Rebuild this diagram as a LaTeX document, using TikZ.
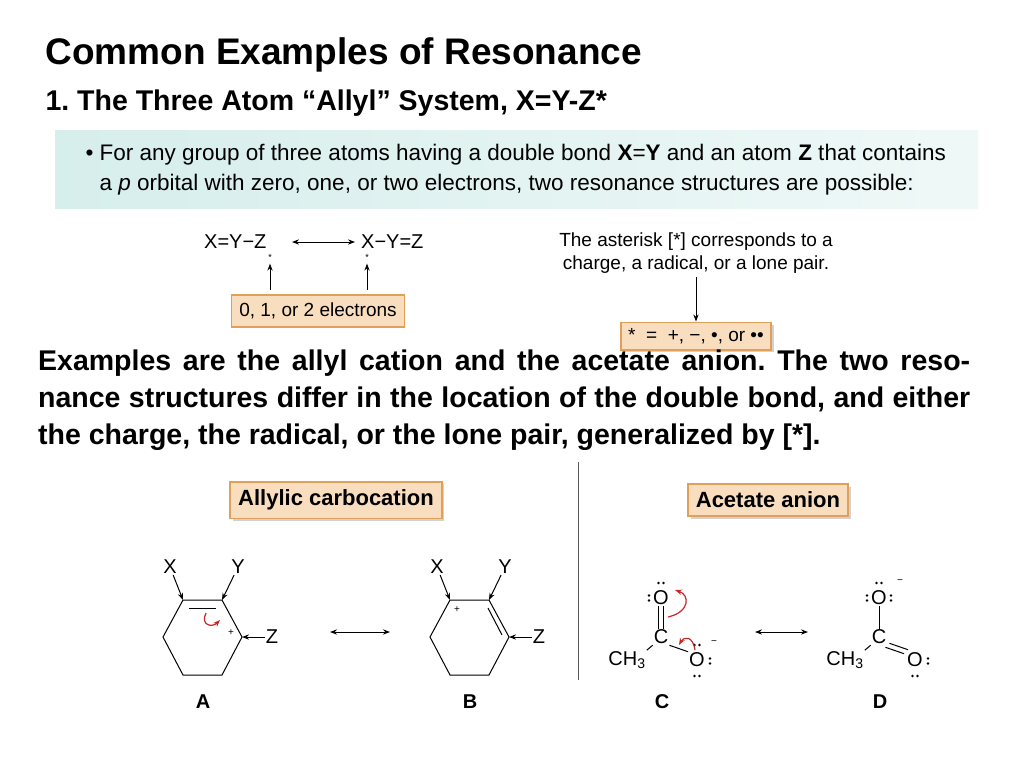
\documentclass[tikz,border=0pt]{standalone}
\usepackage{fontspec}
\setmainfont{Liberation Sans}
\usetikzlibrary{arrows.meta, positioning, shadows}
\definecolor{tan}{RGB}{248,222,190}
\definecolor{tanline}{RGB}{225,160,90}
\definecolor{band}{RGB}{214,238,236}
\definecolor{curly}{RGB}{200,40,40}
\newcommand{\dotpair}[2]{\fill (#1) ++(-2.5,0) circle (1.4) ++(5,0) circle (1.4);}
\newcommand{\dotpairv}[1]{\fill (#1) ++(0,-2.5) circle (1.4) ++(0,5) circle (1.4);}
\frenchspacing
\begin{document}
\begin{tikzpicture}[x=1pt, y=-1pt, >={Stealth[length=7pt]},
  tanbox/.style={draw=tanline, fill=tan, line width=1.5pt, inner sep=8pt, font=\fontsize{19}{21}\selectfont},
  labelbox/.style={tanbox, drop shadow={opacity=0.35}, font=\bfseries\fontsize{22}{24}\selectfont},
  chem/.style={font=\fontsize{20}{22}\selectfont, inner sep=1pt},
  bond/.style={line width=1pt}]
\useasboundingbox (0,0) rectangle (1024,768);
\fill[white] (0,0) rectangle (1024,768);
% Headings
\node[anchor=west, font=\bfseries\fontsize{37}{40}\selectfont] (title) at (42,55) {Common Examples of Resonance};
\node[anchor=west, font=\bfseries\fontsize{28.5}{32}\selectfont] (sub) at (42,103) {1. The Three Atom “Allyl” System, X=Y-Z*};
% Bullet band
\shade[left color=band, right color=band!40] (55,130) rectangle (978,208);
\node[anchor=north west, align=left, font=\fontsize{22.5}{30}\selectfont] (bullet) at (82,141)
  {\textbullet\ For any group of three atoms having a double bond \textbf{X}=\textbf{Y} and an atom \textbf{Z} that contains\\
   \hphantom{\textbullet\ }a \textit{p} orbital with zero, one, or two electrons, two resonance structures are possible:};
% General scheme
\node[chem, anchor=west] (left) at (203,242) {X=Y−Z};
\node[chem, anchor=west] (right) at (360,242) {X−Y=Z};
\draw[<->, bond] (292,242) -- (355,242);
\node[font=\small] (s1) at (270,257) {*};
\node[font=\small] (s2) at (367,257) {*};
\node[tanbox] (elec) at (318,311) {0, 1, or 2 electrons};
\draw[->, bond] (270,290) -- (s1);
\draw[->, bond] (367,290) -- (s2);
\node[align=center, font=\fontsize{19}{23}\selectfont] (note) at (696,253) {The asterisk [*] corresponds to a\\charge, a radical, or a lone pair.};
\node[tanbox, drop shadow={opacity=0.35}, minimum width=150pt, inner sep=6pt] (star) at (696,336) {* \ = \ +, −, •, or ••};
\draw[->, bond] (note) -- (star);
% Paragraph
\node[anchor=north west, text width=932pt, align=justify, inner sep=0pt, font=\bfseries\fontsize{28.5}{37}\selectfont] (para) at (38,350)
  {\hyphenpenalty=10000 \emergencystretch=3em Examples are the allyl cation and the acetate anion. The two resonance structures differ in the location of the double bond, and either the charge, the radical, or the lone pair, generalized by [*].};
% Divider and label boxes
\draw[line width=1pt, gray!70!black] (578,462) -- (578,680);
\node[labelbox] (allyl) at (336,500) {Allylic carbocation};
\node[labelbox] (acet) at (768,500) {Acetate anion};
% Structure A
\begin{scope}
\coordinate (a1) at (163,637); \coordinate (a2) at (183,600); \coordinate (a3) at (222,600);
\coordinate (a4) at (242,637); \coordinate (a5) at (222,675); \coordinate (a6) at (183,675);
\draw[bond] (a1) -- (a2) -- (a3) -- (a4) -- (a5) -- (a6) -- cycle;
\draw[bond] (189,608) -- (216,608);
\node[chem] (ax) at (170,567) {X};
\node[chem] (ay) at (238,567) {Y};
\node[chem] (az) at (272,637) {Z};
\draw[->, bond] (ax) -- (a2);
\draw[->, bond] (ay) -- (a3);
\draw[->, bond] (az) -- (a4);
\node[font=\normalsize] (ap) at (231,633) {+};
\draw[->, curly, line width=1.2pt] (206,613) .. controls (200,625) and (212,628) .. (220,620);
\node[font=\bfseries\fontsize{20}{22}\selectfont] (la) at (203,702) {A};
\end{scope}
\draw[<->, bond] (330,632) -- (390,632);
% Structure B
\begin{scope}[xshift=267pt]
\coordinate (b1) at (163,637); \coordinate (b2) at (183,600); \coordinate (b3) at (222,600);
\coordinate (b4) at (242,637); \coordinate (b5) at (222,675); \coordinate (b6) at (183,675);
\draw[bond] (b1) -- (b2) -- (b3) -- (b4) -- (b5) -- (b6) -- cycle;
\draw[bond] (221,608) -- (235,635);
\node[chem] (bx) at (170,567) {X};
\node[chem] (by) at (238,567) {Y};
\node[chem] (bz) at (272,637) {Z};
\draw[->, bond] (bx) -- (b2);
\draw[->, bond] (by) -- (b3);
\draw[->, bond] (bz) -- (b4);
\node[font=\normalsize] (bp) at (190,610) {+};
\node[font=\bfseries\fontsize{20}{22}\selectfont] (lb) at (203,702) {B};
\end{scope}
% Structure C
\node[chem] (co1) at (661,598) {O};
\node[chem] (cc) at (661,637) {C};
\node[chem] (cme) at (627,660) {CH\textsubscript{3}};
\node[chem] (co2) at (697,660) {O};
\draw[bond] ([xshift=-2.5pt]co1.south) -- ([xshift=-2.5pt]cc.north);
\draw[bond] ([xshift=2.5pt]co1.south) -- ([xshift=2.5pt]cc.north);
\draw[bond] (cc.south west) -- (cme.north east);
\draw[bond] (cc.south east) -- (co2.north west);
\dotpair{661,583}{}
\dotpairv{649,598}
\dotpair{697,645}{}
\dotpair{697,676}{}
\dotpairv{710,661}
\node[font=\normalsize] (cm) at (714,643) {−};
\draw[->, curly, line width=1.2pt] (668,617) .. controls (690,612) and (690,595) .. (675,590);
\draw[->, curly, line width=1.2pt] (695,650) .. controls (693,636) and (684,636) .. (679,645);
\node[font=\bfseries\fontsize{20}{22}\selectfont] (lc) at (662,702) {C};
\draw[<->, bond] (755,632) -- (808,632);
% Structure D
\node[chem] (do1) at (879,598) {O};
\node[chem] (dc) at (879,637) {C};
\node[chem] (dme) at (845,660) {CH\textsubscript{3}};
\node[chem] (do2) at (915,660) {O};
\draw[bond] (do1.south) -- (dc.north);
\draw[bond] (dc.south west) -- (dme.north east);
\draw[bond] ([xshift=-2pt,yshift=-2pt]dc.south east) -- ([xshift=-2pt,yshift=-2pt]do2.north west);
\draw[bond] ([xshift=2pt,yshift=2pt]dc.south east) -- ([xshift=2pt,yshift=2pt]do2.north west);
\dotpair{879,583}{}
\dotpairv{867,598}
\dotpairv{891,598}
\node[font=\normalsize] (dm) at (900,582) {−};
\dotpairv{928,661}
\dotpair{915,676}{}
\node[font=\bfseries\fontsize{20}{22}\selectfont] (ld) at (880,702) {D};
\end{tikzpicture}
\end{document}
